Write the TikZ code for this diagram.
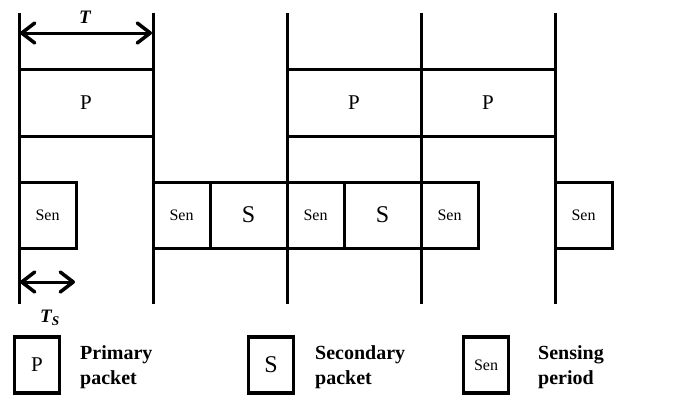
\documentclass[tikz,border=0pt]{standalone}
\usepackage{fontspec}
\setmainfont{Liberation Serif}
\usetikzlibrary{arrows.meta}
\begin{document}
\begin{tikzpicture}[x=1pt,y=-1pt,
  thickline/.style={line width=3pt},
  pbox/.style={draw,line width=3pt,rectangle,minimum width=134pt,minimum height=67pt,inner sep=0pt,font=\fontsize{21}{23}\selectfont},
  senbox/.style={draw,line width=3pt,rectangle,minimum width=57pt,minimum height=66pt,inner sep=0pt,font=\fontsize{16}{18}\selectfont},
  sbox/.style={draw,line width=3pt,rectangle,minimum width=77pt,minimum height=66pt,inner sep=0pt,font=\fontsize{24}{26}\selectfont},
  legbox/.style={draw,line width=3.5pt,rectangle,minimum width=45pt,minimum height=56pt,inner sep=0pt},
  legtext/.style={align=left,anchor=west,inner sep=0pt,font=\fontsize{20}{25}\selectfont\bfseries},
  barb/.tip={Straight Barb[length=13pt,width=20pt,line width=3.5pt,line join=miter,round]},
  dimarrow/.style={line width=3pt,barb-barb},
  lbl/.style={inner sep=0pt,font=\fontsize{19}{21}\selectfont\bfseries\itshape}]
\useasboundingbox (0,0) rectangle (679,408);
% vertical time lines
\foreach \i/\x in {0/19,1/153,2/287,3/421,4/555}{
  \coordinate (t\i) at (\x,13);
  \coordinate (b\i) at (\x,304);
}
% primary packets
\node[pbox] (p1) at (86,102.5) {P};
\node[pbox] (p2) at (354,102.5) {P};
\node[pbox] (p3) at (488,102.5) {P};
% sensing / secondary row
\node[senbox] (s1) at (47.5,215) {Sen};
\node[senbox] (s2) at (181.5,215) {Sen};
\node[sbox] (x1) at (248.5,215) {S};
\node[senbox] (s3) at (315.5,215) {Sen};
\node[sbox] (x2) at (382.5,215) {S};
\node[senbox] (s4) at (449.5,215) {Sen};
\node[senbox] (s5) at (583.5,215) {Sen};
% vertical lines
\foreach \i in {0,...,4}{\draw[thickline] (t\i) -- (b\i);}
% T arrow
\coordinate (ta) at (20,33);
\coordinate (tb) at (152,33);
\draw[dimarrow] (ta) -- (tb);
\node[lbl] (T) at (85,17) {T};
% Ts arrow
\coordinate (tsa) at (20,282);
\coordinate (tsb) at (75,282);
\draw[dimarrow] (tsa) -- (tsb);
\node[lbl] (Ts) at (50,318) {T\textsubscript{S}};
% legend
\node[legbox,font=\fontsize{21}{23}\selectfont] (lp) at (37,365) {P};
\node[legbox,font=\fontsize{24}{26}\selectfont] (ls) at (271,365) {S};
\node[legbox,font=\fontsize{16}{18}\selectfont] (lsen) at (486,365) {Sen};
\node[legtext] (lpt) at (80,367) {Primary\\packet};
\node[legtext] (lst) at (315,367) {Secondary\\packet};
\node[legtext] (lsent) at (538,367) {Sensing\\period};
\end{tikzpicture}
\end{document}
